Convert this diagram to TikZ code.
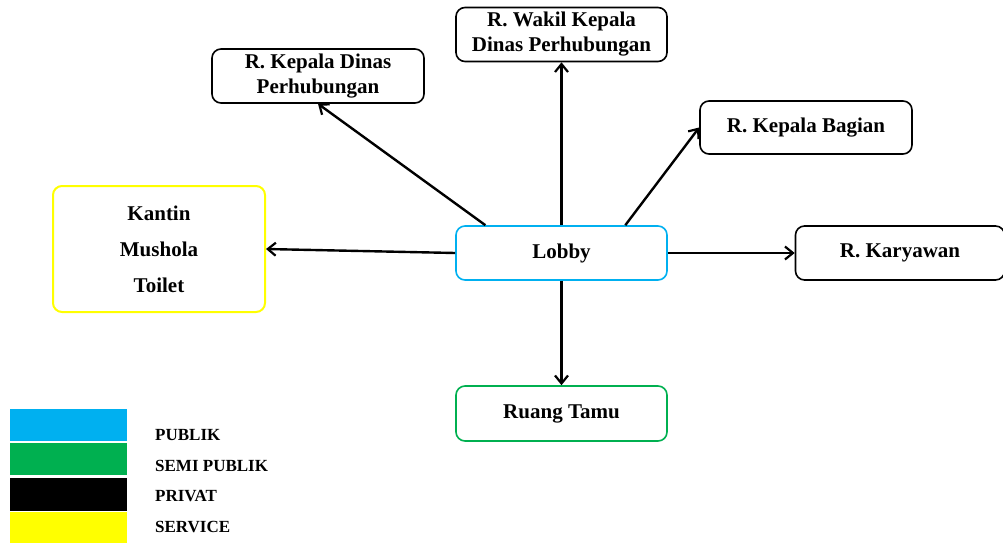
\documentclass[tikz,border=0pt]{standalone}
\usepackage{fontspec}
\setmainfont{Liberation Serif}
\usetikzlibrary{calc,positioning,arrows.meta}
\definecolor{publik}{HTML}{00B0F0}
\definecolor{semipublik}{HTML}{00B050}
\definecolor{service}{HTML}{FFFF00}
\tikzstyle{room}=[rectangle,
        minimum height=54pt,
        minimum width=211pt,
        inner sep=0pt,
        draw=black,
        line width=1.6pt,
        rounded corners=9pt,
        align=center,
        font=\fontsize{21}{25}\selectfont\bfseries]
\tikzstyle{link}=[line width=2.4pt, -{Straight Barb[length=8pt,width=13pt,line width=2.2pt]}]
\tikzstyle{legend_label}=[anchor=west, inner sep=0pt,
        font=\fontsize{17}{20}\selectfont\bfseries]

\begin{document}
\begin{tikzpicture}[x=1pt, y=-1pt]
    \useasboundingbox (0,0) rectangle (1003,543);

    % rooms
    \node at (561.5, 253) (lobby) [room, draw=publik] {Lobby};
    \node at (561.5, 34.5) (wakil) [room] {R. Wakil Kepala\\Dinas Perhubungan};
    \node at (318, 76) (kadis) [room, minimum width=212pt] {R. Kepala Dinas\\Perhubungan};
    \node at (806, 127.5) (kabag) [room, minimum height=53pt, minimum width=212pt] {R. Kepala Bagian};
    \node at (900, 253) (karyawan) [room, minimum width=209pt] {R. Karyawan};
    \node at (159, 249) (service) [room, draw=service, line width=2pt, minimum height=126pt, minimum width=212pt] {Kantin\\[11pt]Mushola\\[11pt]Toilet};
    \node at (561.5, 413.5) (tamu) [room, draw=semipublik, minimum height=55pt] {Ruang Tamu};

    % connections
    \draw[link] (lobby.north) -- (wakil.south);
    \draw[link] ($(lobby.north west)!0.142!(lobby.north east)$) -- (kadis.south);
    \draw[link] ($(lobby.north west)!0.80!(lobby.north east)$) -- (kabag.west);
    \draw[link] (lobby.west) -- (service.east);
    \draw[link] (lobby.east) -- (karyawan.west);
    \draw[link] (lobby.south) -- (tamu.north);

    % legend
    \fill[publik] (10,409) rectangle (127,441);
    \fill[semipublik] (10,443) rectangle (127,475);
    \fill[black] (10,478) rectangle (127,511);
    \fill[service] (10,512) rectangle (127,543);
    \node at (155, 435) (l_publik) [legend_label] {PUBLIK};
    \node at (155, 466) (l_semi) [legend_label] {SEMI PUBLIK};
    \node at (155, 496) (l_privat) [legend_label] {PRIVAT};
    \node at (155, 527) (l_service) [legend_label] {SERVICE};

\end{tikzpicture}
\end{document}
